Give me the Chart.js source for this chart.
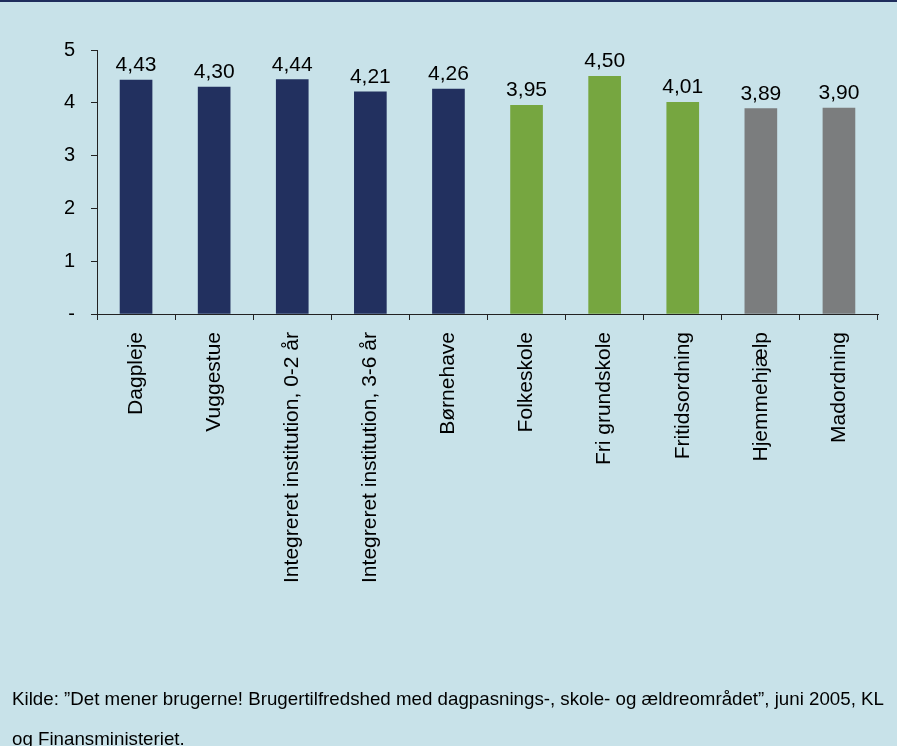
<!DOCTYPE html>
<html><head><meta charset="utf-8">
<script src="https://cdn.jsdelivr.net/npm/chart.js@4/dist/chart.umd.min.js"></script>
<style>
html,body{margin:0;padding:0;background:#c8e2e9;}
#wrap{position:relative;width:897px;height:746px;background:#c8e2e9;overflow:hidden;}
#topline{position:absolute;left:0;top:0;width:897px;height:2px;background:#1f2d5c;}
#c{position:absolute;left:0;top:0;}
.src{position:absolute;left:12px;font-family:"Liberation Sans",Arial,sans-serif;font-size:18.5px;line-height:22px;color:#000;white-space:nowrap;transform-origin:0 0;}
</style></head>
<body>
<div id="wrap">
<canvas id="c" width="897" height="746"></canvas>
<div id="topline"></div>
<div class="src" id="s1" style="top:688px">Kilde: ”Det mener brugerne! Brugertilfredshed med dagpasnings-, skole- og ældreområdet”, juni 2005, KL</div>
<div class="src" id="s2" style="top:728px">og Finansministeriet.</div>
</div>
<script>
const categories = ["Dagpleje","Vuggestue","Integreret institution, 0-2 år","Integreret institution, 3-6 år","Børnehave","Folkeskole","Fri grundskole","Fritidsordning","Hjemmehjælp","Madordning"];
const values = [4.43,4.30,4.44,4.21,4.26,3.95,4.50,4.01,3.89,3.90];
const yTicks = [0,1,2,3,4,5];
const barColors = ["#22305f","#22305f","#22305f","#22305f","#22305f","#76a640","#76a640","#76a640","#7b7d7e","#7b7d7e"];

// fit source line width to the reference
(function(){
  const s1 = document.getElementById('s1'), s2 = document.getElementById('s2');
  const w = s1.getBoundingClientRect().width;
  const k = 872 / w;
  s1.style.transform = 'scaleX(' + k + ')';
  s2.style.transform = 'scaleX(' + k + ')';
})();

const labelPlugin = {
  id:'vals',
  afterDatasetsDraw(chart){
    const ctx = chart.ctx;
    const meta = chart.getDatasetMeta(0);
    ctx.save();
    ctx.font = '21px "Liberation Sans", Arial, sans-serif';
    ctx.fillStyle = '#000';
    ctx.textAlign = 'center';
    ctx.textBaseline = 'alphabetic';
    meta.data.forEach((el,i)=>{
      ctx.fillText(values[i].toFixed(2).replace('.',','), el.x, el.y - 9);
    });
    ctx.restore();
  }
};

new Chart(document.getElementById('c'), {
  type:'bar',
  data:{labels:categories, datasets:[{data:values, backgroundColor:barColors, barThickness:32}]},
  options:{
    responsive:false, animation:false,
    layout:{padding:{top:50,right:19,left:0,bottom:0}},
    plugins:{legend:{display:false}, tooltip:{enabled:false}},
    scales:{
      x:{
        grid:{display:true, drawOnChartArea:false, drawTicks:true, tickLength:6, color:'#222', offset:true},
        border:{display:true,color:'#222',width:1},
        ticks:{color:'#000', font:{family:'"Liberation Sans", Arial, sans-serif', size:21}, maxRotation:90, minRotation:90, padding:12, autoSkip:false},
        afterFit(s){ s.height = 746-314; }
      },
      y:{
        min:0,max:5,
        afterBuildTicks(s){ s.ticks = yTicks.map(v=>({value:v})); },
        grid:{display:true, drawOnChartArea:false, drawTicks:true, tickLength:6, color:'#222'},
        border:{display:true,color:'#222',width:1},
        ticks:{color:'#000', font:{family:'"Liberation Sans", Arial, sans-serif', size:20}, padding:16, callback:v=> v===0?'-':String(v)},
        afterFit(s){ s.width = 97; }
      }
    }
  },
  plugins:[labelPlugin]
});
</script>
</body></html>
